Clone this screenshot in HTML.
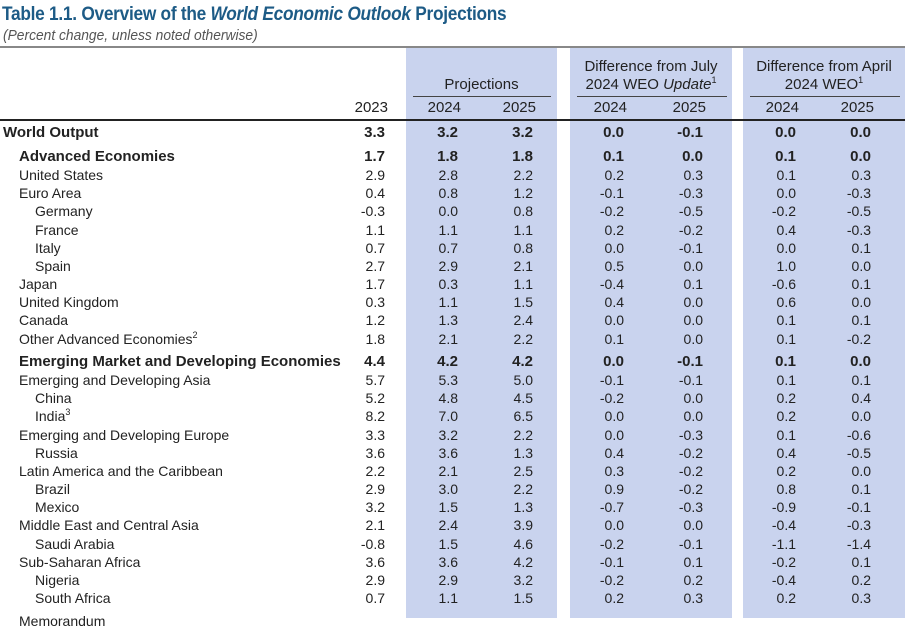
<!DOCTYPE html>
<html><head><meta charset="utf-8"><style>
body{margin:0;width:905px;height:618px;overflow:hidden;background:#fff;position:relative;font-family:"Liberation Sans Narrow","Liberation Sans",sans-serif;color:#222}
.a{position:absolute;white-space:nowrap;line-height:18px;font-size:14px}
.band{position:absolute;top:47px;height:571px;background:#c9d3ee}
.r{text-align:right}
.b{font-weight:bold}
sup{font-size:9px;line-height:0;vertical-align:6px}
</style></head><body>
<div class="a b" style="left:2px;top:3px;font-size:19px;color:#1d5b86;line-height:24px;letter-spacing:-0.3px;transform:scaleX(0.91);transform-origin:0 0">Table 1.1. Overview of the <i>World Economic Outlook</i> Projections</div>
<div class="a" style="left:3px;top:27px;font-size:15px;font-style:italic;color:#555;transform:scaleX(0.92);transform-origin:0 0">(Percent change, unless noted otherwise)</div>
<div class="band" style="left:406px;width:151px"></div>
<div class="band" style="left:570px;width:162px"></div>
<div class="band" style="left:743px;width:162px"></div>
<div style="position:absolute;left:0;top:46px;width:905px;height:2px;background:#888"></div>
<div style="position:absolute;left:0;top:119px;width:905px;height:2px;background:#222"></div>
<div style="position:absolute;left:413px;top:96px;width:138px;height:1px;background:#444"></div>
<div style="position:absolute;left:577px;top:96px;width:150px;height:1px;background:#444"></div>
<div style="position:absolute;left:750px;top:96px;width:150px;height:1px;background:#444"></div>
<div class="a" style="left:406px;width:151px;text-align:center;top:76px;font-size:15px">Projections</div>
<div class="a" style="left:570px;width:162px;text-align:center;top:58px;font-size:15px">Difference from July<br>2024 WEO <i>Update</i><sup>1</sup></div>
<div class="a" style="left:743px;width:162px;text-align:center;top:58px;font-size:15px">Difference from April<br>2024 WEO<sup>1</sup></div>
<div id="t"></div>
<script>
const colRight=[385,458,533,624,703,796,871];
const years=["2023","2024","2025","2024","2025","2024","2025"];
const names=["World Output","Advanced Economies","United States","Euro Area","Germany","France","Italy","Spain","Japan","United Kingdom","Canada","Other Advanced Economies<sup>2</sup>","Emerging Market and Developing Economies","Emerging and Developing Asia","China","India<sup>3</sup>","Emerging and Developing Europe","Russia","Latin America and the Caribbean","Brazil","Mexico","Middle East and Central Asia","Saudi Arabia","Sub-Saharan Africa","Nigeria","South Africa"];
const levels=[0,1,1,1,2,2,2,2,1,1,1,1,1,1,2,2,1,2,1,2,2,1,2,1,2,2];
const bold=[1,1,0,0,0,0,0,0,0,0,0,0,1,0,0,0,0,0,0,0,0,0,0,0,0,0];
const values=[
["3.3","3.2","3.2","0.0","-0.1","0.0","0.0"],
["1.7","1.8","1.8","0.1","0.0","0.1","0.0"],
["2.9","2.8","2.2","0.2","0.3","0.1","0.3"],
["0.4","0.8","1.2","-0.1","-0.3","0.0","-0.3"],
["-0.3","0.0","0.8","-0.2","-0.5","-0.2","-0.5"],
["1.1","1.1","1.1","0.2","-0.2","0.4","-0.3"],
["0.7","0.7","0.8","0.0","-0.1","0.0","0.1"],
["2.7","2.9","2.1","0.5","0.0","1.0","0.0"],
["1.7","0.3","1.1","-0.4","0.1","-0.6","0.1"],
["0.3","1.1","1.5","0.4","0.0","0.6","0.0"],
["1.2","1.3","2.4","0.0","0.0","0.1","0.1"],
["1.8","2.1","2.2","0.1","0.0","0.1","-0.2"],
["4.4","4.2","4.2","0.0","-0.1","0.1","0.0"],
["5.7","5.3","5.0","-0.1","-0.1","0.1","0.1"],
["5.2","4.8","4.5","-0.2","0.0","0.2","0.4"],
["8.2","7.0","6.5","0.0","0.0","0.2","0.0"],
["3.3","3.2","2.2","0.0","-0.3","0.1","-0.6"],
["3.6","3.6","1.3","0.4","-0.2","0.4","-0.5"],
["2.2","2.1","2.5","0.3","-0.2","0.2","0.0"],
["2.9","3.0","2.2","0.9","-0.2","0.8","0.1"],
["3.2","1.5","1.3","-0.7","-0.3","-0.9","-0.1"],
["2.1","2.4","3.9","0.0","0.0","-0.4","-0.3"],
["-0.8","1.5","4.6","-0.2","-0.1","-1.1","-1.4"],
["3.6","3.6","4.2","-0.1","0.1","-0.2","0.1"],
["2.9","2.9","3.2","-0.2","0.2","-0.4","0.2"],
["0.7","1.1","1.5","0.2","0.3","0.2","0.3"]];
const t=document.getElementById('t');
function add(html,cls,l,top,w,nm){const d=document.createElement('div');d.className='a '+cls;d.innerHTML=html;d.style.top=top+'px';
if(w){d.style.left=(l-w)+'px';d.style.width=w+'px';}else d.style.left=l+'px';


t.appendChild(d);return d;}
years.forEach((y,i)=>{const d=add(y,'r',colRight[i]+3,99,60,'year-header');d.style.fontSize='15px';});
function rowY(i){if(i===0)return 124;if(i<12)return 148+(i-1)*18.15;return 353+(i-12)*18.15;}
names.forEach((n,i)=>{const y=rowY(i);const x=[3,19,35][levels[i]];
const d=add(n,bold[i]?'b':'',x,y,0,'row-label');if(bold[i])d.style.fontSize='15px';
values[i].forEach((v,j)=>{const c=add(v,'r'+(bold[i]?' b':''),colRight[j],y,60,'cell-value');if(bold[i])c.style.fontSize='15px';});});
add('Memorandum','',19,612,0,'memorandum-label');
</script>
</body></html>
